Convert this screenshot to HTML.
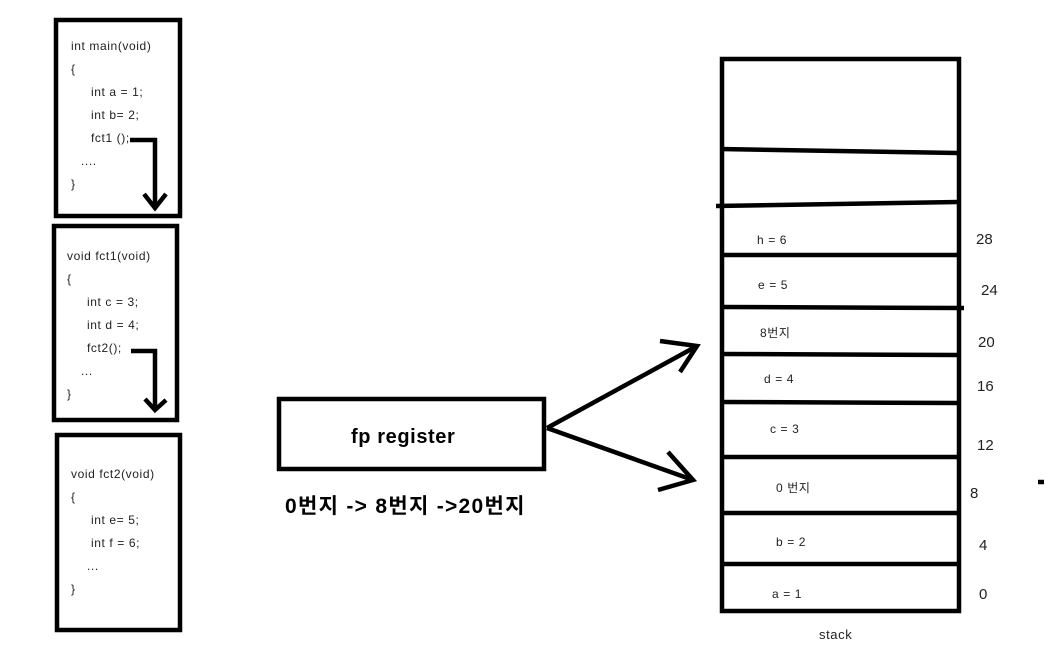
<!DOCTYPE html>
<html><head><meta charset="utf-8"><style>
body{margin:0;background:#fff;width:1046px;height:647px;overflow:hidden}
svg text{font-family:"Liberation Sans","Noto Sans CJK KR",sans-serif;fill:#222}
</style></head><body>
<svg width="1046" height="647" viewBox="0 0 1046 647">
<g fill="none" stroke="#000" stroke-width="4.5">
<rect x="56" y="20" width="124" height="196"/>
<rect x="54" y="226" width="123" height="194"/>
<rect x="57" y="435" width="123" height="195"/>
<rect x="279" y="399" width="265" height="70"/>
<rect x="722" y="59" width="237" height="552"/>
<line x1="720" y1="149" x2="958" y2="153"/>
<line x1="716" y1="206" x2="958" y2="202"/>
<line x1="722" y1="255" x2="958" y2="255"/>
<line x1="722" y1="307" x2="964" y2="308"/>
<line x1="720" y1="354" x2="958" y2="355"/>
<line x1="720" y1="402" x2="958" y2="403"/>
<line x1="722" y1="457" x2="958" y2="457"/>
<line x1="722" y1="513" x2="958" y2="513"/>
<line x1="722" y1="564" x2="958" y2="564"/>
<polyline points="130,140 155,140 155,208"/>
<polyline points="144,194 155,208 166,194"/>
<polyline points="131,351 155,351 155,410"/>
<polyline points="145,399 155,410 166,400"/>
<polyline points="547,428 697,346"/>
<polyline points="660,341 697,346 680,372"/>
<polyline points="547,428 693,480"/>
<polyline points="668,452 693,480 658,490"/>
<line x1="1038" y1="482" x2="1044" y2="482"/>
</g>
<g font-size="12" letter-spacing="0.6">
<text x="71" y="50">int main(void)</text><text x="71" y="73">{</text>
<text x="91" y="96">int a = 1;</text><text x="91" y="119">int b= 2;</text>
<text x="91" y="142">fct1 ();</text><text x="81" y="165">....</text><text x="71" y="188">}</text>
<text x="67" y="260">void fct1(void)</text><text x="67" y="283">{</text>
<text x="87" y="306">int c = 3;</text><text x="87" y="329">int d = 4;</text>
<text x="87" y="352">fct2();</text><text x="81" y="375">...</text><text x="67" y="398">}</text>
<text x="71" y="478">void fct2(void)</text><text x="71" y="501">{</text>
<text x="91" y="524">int e= 5;</text><text x="91" y="547">int f = 6;</text>
<text x="87" y="570">...</text><text x="71" y="593">}</text>
<text x="757" y="244">h = 6</text><text x="758" y="289">e = 5</text>
<text x="760" y="337">8번지</text><text x="764" y="383">d = 4</text>
<text x="770" y="433">c = 3</text><text x="776" y="492">0 번지</text>
<text x="776" y="546">b = 2</text><text x="772" y="598">a = 1</text>
<text x="819" y="639" font-size="13">stack</text>
</g>
<g font-size="15">
<text x="976" y="244">28</text><text x="981" y="295">24</text>
<text x="978" y="347">20</text><text x="977" y="391">16</text>
<text x="977" y="450">12</text><text x="970" y="498">8</text>
<text x="979" y="550">4</text><text x="979" y="599">0</text>
</g>
<text x="351" y="443" font-size="20" font-weight="bold" letter-spacing="0.6" style="fill:#000">fp register</text>
<text x="285" y="513" font-size="21" font-weight="bold" letter-spacing="1.3" style="fill:#000">0번지 -&gt; 8번지 -&gt;20번지</text>
</svg>
</body></html>
